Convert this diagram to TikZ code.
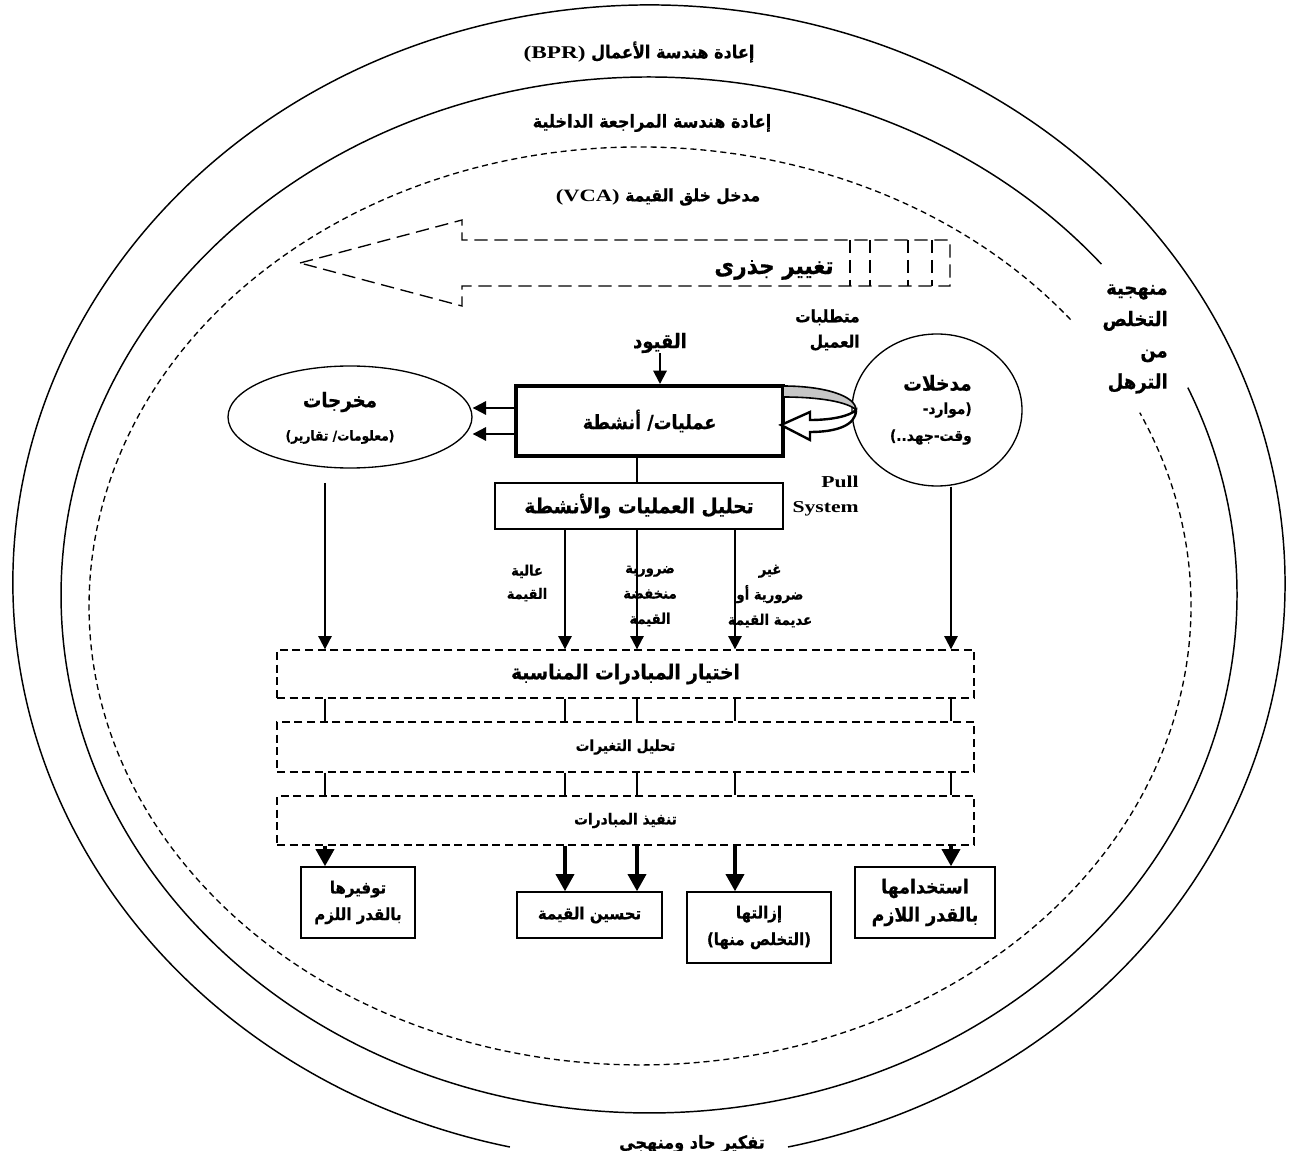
\documentclass[tikz,border=0pt]{standalone}
\usepackage{fontspec}
\setmainfont{Liberation Serif}
\newfontfamily\arfont[Script=Arabic,FakeStretch=0.9,BoldFeatures={FakeBold=0.6}]{DejaVu Sans}
\newfontfamily\latfont[FakeStretch=1.3]{Liberation Serif}
\TeXXeTstate=1
\usetikzlibrary{arrows.meta,shapes.geometric}
\newcommand\AR[1]{{\arfont\bfseries\beginR #1\endR}}
\newcommand\LT[1]{\beginL{\latfont\bfseries #1}\endL}
\newcommand\fsz[2]{\fontsize{#1}{#2}\selectfont}
\begin{document}
\begin{tikzpicture}[x=0.75pt,y=0.75pt,
  ring/.style={line width=1.1pt},
  dring/.style={line width=1pt,dash pattern=on 4.5pt off 3pt},
  bigarr/.style={line width=1pt,dash pattern=on 10pt off 5pt},
  txt/.style={inner sep=0pt,align=center},
  dbox/.style={draw,line width=1pt,dash pattern=on 6pt off 3.5pt,minimum width=522.75pt,inner sep=0pt},
  rbox/.style={draw,line width=1pt,inner sep=0pt,align=center},
  ell/.style={draw,ellipse,line width=1pt,inner sep=0pt},
  arr/.style={line width=1.5pt,-{Triangle[length=10pt,width=10pt]}},
  tarr/.style={line width=3pt,-{Triangle[length=13pt,width=13.5pt]}},
  conn/.style={line width=1pt}
]
\useasboundingbox (0,0) rectangle (1303,-1151);
\fill[white] (0,0) rectangle (1303,-1151);

% rings
\draw[ring] (788.0,-1147.0) arc[start angle=282.63, end angle=617.37, x radius=636, y radius=578];
\draw[ring] (1101.4,-264.1) arc[start angle=39.7, end angle=383.6, x radius=588, y radius=518];
\draw[dring] (1070.6,-319.6) arc[start angle=38.6, end angle=384.9, x radius=551, y radius=459];

% big dashed arrow
\draw[bigarr] (300,-263) -- (462,-220) -- (462,-240) -- (950,-240) -- (950,-286) -- (462,-286) -- (462,-306) -- cycle;
\foreach \xx in {850,870,908,932} \draw[bigarr] (\xx,-240) -- (\xx,-286);

% titles
\node[txt,font=\fsz{13.4}{15}] (bpr) at (639,-52) {\AR{إعادة هندسة الأعمال \LT{(BPR)}}};
\node[txt,font=\fsz{13.4}{15}] (ira) at (652,-123) {\AR{إعادة هندسة المراجعة الداخلية}};
\node[txt,font=\fsz{13}{15}] (vca) at (658,-197) {\AR{مدخل خلق القيمة \LT{(VCA)}}};
\node[txt,font=\fsz{18}{20}] (tj) at (774,-270) {\AR{تغيير جذرى}};
\node[txt,font=\fsz{15}{23.5},anchor=east,align=right] (mnh) at (1168,-339) {\AR{منهجية}\\\AR{التخلص}\\\AR{من}\\\AR{الترهل}};
\node[txt,font=\fsz{13.4}{15}] (tfk) at (692,-1144) {\AR{تفكير حاد ومنهجي}};

% upper part
\node[txt,font=\fsz{12.8}{19},anchor=east,align=right] (mt) at (860,-330) {\AR{متطلبات}\\\AR{العميل}};
\node[txt,font=\fsz{15}{17}] (qu) at (660,-343) {\AR{القيود}};
\node[draw,line width=3pt,minimum width=200.25pt,minimum height=52.5pt,inner sep=0pt,font=\fsz{14.7}{17}] (proc) at (649.5,-421) {\AR{عمليات/ أنشطة}};
\node[ell,minimum width=183pt,minimum height=76.5pt] (outell) at (350,-417) {};
\node[txt,font=\fsz{15.2}{17}] (outt1) at (340,-402) {\AR{مخرجات}};
\node[txt,font=\fsz{10.2}{12}] (outt2) at (340,-437) {\AR{(معلومات/ تقارير)}};
\node[ell,minimum width=127.5pt,minimum height=114pt] (inell) at (937,-410) {};
\node[txt,font=\fsz{15.5}{17},anchor=east] (int1) at (972,-383) {\AR{مدخلات}};
\node[txt,font=\fsz{11.5}{13},anchor=east] (int2) at (972,-410) {\AR{(موارد-}};
\node[txt,font=\fsz{11.5}{13},anchor=east] (int3) at (972,-437) {\AR{وقت-جهد..)}};
\node[txt,font=\fsz{12.5}{19}\latfont\bfseries,anchor=east,align=right] (pull) at (859,-496) {Pull\\System};
\node[rbox,minimum width=216pt,minimum height=34.5pt,font=\fsz{15.5}{17}] (an) at (639,-506) {\AR{تحليل العمليات والأنشطة}};

% value labels
\node[txt,font=\fsz{10.8}{17.5}] (lab1) at (527,-583) {\AR{عالية}\\\AR{القيمة}};
\node[txt,font=\fsz{11}{19}] (lab2) at (650,-596) {\AR{ضرورية}\\\AR{منخفضة}\\\AR{القيمة}};
\node[txt,font=\fsz{11}{19}] (lab3) at (770,-596) {\AR{غير}\\\AR{ضرورية أو}\\\AR{عديمة القيمة}};

% dashed boxes
\node[dbox,minimum height=36pt,font=\fsz{15.5}{17}] (d1) at (625.5,-674) {\AR{اختيار المبادرات المناسبة}};
\node[dbox,minimum height=37.5pt,font=\fsz{11.5}{13}] (d2) at (625.5,-747) {\AR{تحليل التغيرات}};
\node[dbox,minimum height=36.75pt,font=\fsz{11.5}{13}] (d3) at (625.5,-820.5) {\AR{تنفيذ المبادرات}};

% result boxes
\node[rbox,minimum width=85.5pt,minimum height=53.25pt,font=\fsz{12.5}{20}] (b1) at (358,-902.5) {\AR{توفيرها}\\\AR{بالقدر اللزم}};
\node[rbox,minimum width=108.75pt,minimum height=34.5pt,font=\fsz{12.5}{14}] (b2) at (589.5,-915) {\AR{تحسين القيمة}};
\node[rbox,minimum width=108pt,minimum height=53.25pt,font=\fsz{12.5}{20}] (b3) at (759,-927.5) {\AR{إزالتها}\\\AR{(التخلص منها)}};
\node[rbox,minimum width=105pt,minimum height=53.25pt,font=\fsz{14.5}{21}] (b4) at (925,-902.5) {\AR{استخدامها}\\\AR{بالقدر اللازم}};

% column coordinates
\coordinate (xA) at (325,0);
\coordinate (xB) at (565,0);
\coordinate (xC) at (637,0);
\coordinate (xD) at (735,0);
\coordinate (xE) at (951,0);
\coordinate (pw1) at (516,-408);
\coordinate (pw2) at (516,-434);
\coordinate (oA) at (325,-483);

% connectors
\draw[arr] (qu.south) -- (proc.north -| qu.south);
\draw[arr] (proc.west |- pw1) -- (outell.east |- pw1);
\draw[arr] (proc.west |- pw2) -- (outell.east |- pw2);
\draw[conn] (proc.south -| xC) -- (an.north -| xC);
\foreach \c in {xB,xC,xD} \draw[arr] (an.south -| \c) -- (d1.north -| \c);
\draw[arr] (oA) -- (d1.north -| xA);
\draw[arr] (inell.south -| xE) -- (d1.north -| xE);
\foreach \c in {xA,xB,xC,xD,xE} {
  \draw[conn] (d1.south -| \c) -- (d2.north -| \c);
  \draw[conn] (d2.south -| \c) -- (d3.north -| \c);
}
\draw[tarr] (d3.south -| xA) -- (b1.north -| xA);
\draw[tarr] (d3.south -| xB) -- (b2.north -| xB);
\draw[tarr] (d3.south -| xC) -- (b2.north -| xC);
\draw[tarr] (d3.south -| xD) -- (b3.north -| xD);
\draw[tarr] (d3.south -| xE) -- (b4.north -| xE);

% curved feedback arrow (inputs -> processes)
\filldraw[fill=gray!45,line width=1.2pt] (783,-386) .. controls (825,-386) and (856,-396) .. (856,-410) .. controls (848,-402) and (820,-397) .. (783,-397) -- cycle;
\filldraw[fill=white,line width=1.8pt,line join=miter] (856,-410) .. controls (856,-426) and (835,-432) .. (810,-432) -- (810,-440) -- (781,-425) -- (810,-412) -- (810,-420) .. controls (832,-420) and (850,-416) .. (856,-410) -- cycle;
\end{tikzpicture}
\end{document}
